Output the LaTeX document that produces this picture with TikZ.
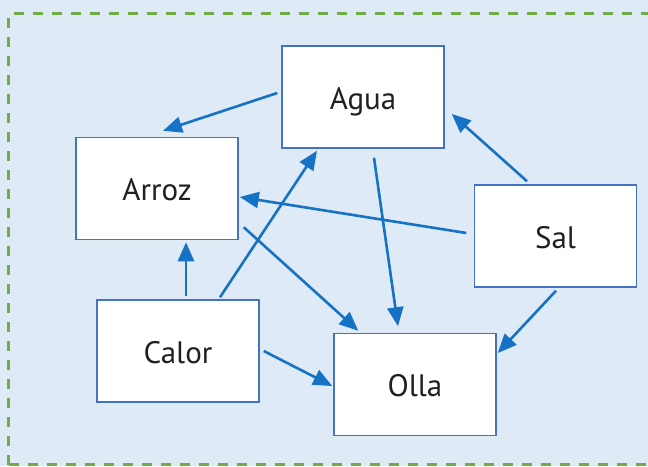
\documentclass[tikz,border=0pt]{standalone}
\usepackage{fontspec}
\setmainfont{PT Sans}
\usetikzlibrary{arrows.meta}
\definecolor{bgblue}{RGB}{222,234,246}
\definecolor{boxblue}{RGB}{68,114,196}
\definecolor{arrblue}{RGB}{22,114,196}
\definecolor{dashgreen}{RGB}{112,173,71}
\definecolor{txt}{RGB}{35,31,32}
\tikzset{
  box/.style={draw=boxblue, line width=1.5pt, fill=white, minimum width=162pt, minimum height=102pt, inner sep=0pt, text height=24pt, text depth=0pt, font=\fontsize{31}{35}\selectfont, text=txt},
  arr/.style={draw=arrblue, line width=2.6pt, -{Triangle[length=19pt,width=16pt]}}
}
\begin{document}
\begin{tikzpicture}[x=1pt,y=-1pt]
\useasboundingbox (0,0) rectangle (648,466);
\fill[bgblue] (0,0) rectangle (648,466);
\begin{scope}
\clip (0,0) rectangle (648,466);
\draw[dashgreen, line width=2.2pt, dash pattern=on 10pt off 9pt] (8.5,464.5) -- (8.5,13.5) -- (670,13.5);
\draw[dashgreen, line width=2.2pt, dash pattern=on 10pt off 9pt] (8.5,464.5) -- (670,464.5);
\end{scope}
\node[box] (agua) at (363,97) {Agua};
\node[box] (arroz) at (157,188.5) {Arroz};
\node[box] (sal) at (555.5,236) {Sal};
\node[box] (calor) at (178,351) {Calor};
\node[box] (olla) at (415,384.5) {Olla};
\draw[arr] ([shift={(-4,-4)}]agua.west) -- ([shift={(6,-6)}]arroz.north);
\draw[arr] ([shift={(-28.5,-3)}]sal.north) -- ([shift={(7,17)}]agua.east);
\draw[arr] ([shift={(-7.5,-3)}]sal.west) -- ([shift={(1,8.5)}]arroz.east);
\draw[arr] ([shift={(11,9)}]agua.south) -- ([shift={(-17,-6.5)}]olla.north);
\draw[arr] ([shift={(5,-13)}]arroz.south east) -- ([shift={(25,-2)}]olla.north west);
\draw[arr] ([shift={(8,-3)}]calor.north) -- ([shift={(29,2)}]arroz.south);
\draw[arr] ([shift={(42,-2)}]calor.north) -- ([shift={(-46,2)}]agua.south);
\draw[arr] ([shift={(4,0)}]calor.east) -- ([shift={(-1,1.5)}]olla.west);
\draw[arr] ([shift={(0.5,3)}]sal.south) -- ([shift={(1,-31.5)}]olla.east);
\end{tikzpicture}
\end{document}
